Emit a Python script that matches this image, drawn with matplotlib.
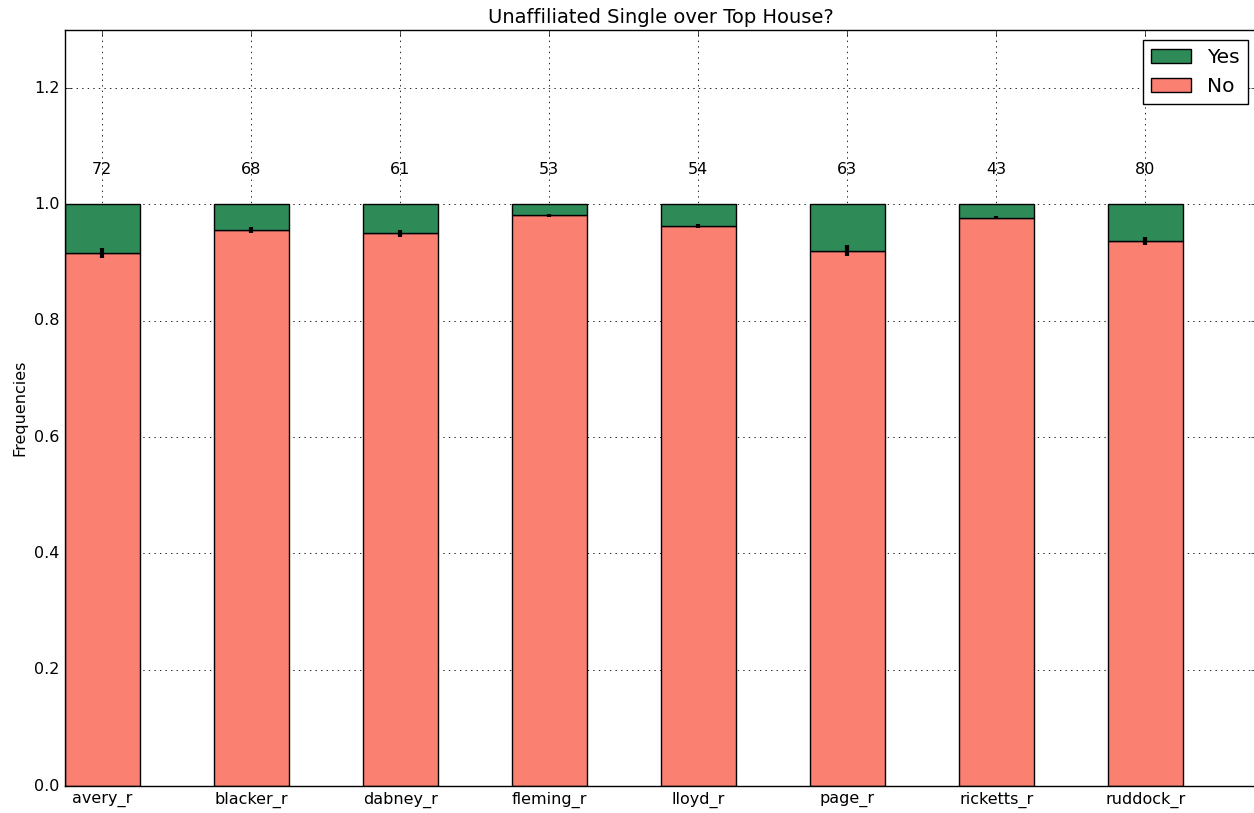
import matplotlib
matplotlib.use("Agg")
import matplotlib.pyplot as plt
import numpy as np

plt.style.use('classic')

houses = ["avery_r", "blacker_r", "dabney_r", "fleming_r", "lloyd_r", "page_r", "ricketts_r", "ruddock_r"]
counts = [72, 68, 61, 53, 54, 63, 43, 80]
no_frac = [66/72, 65/68, 58/61, 52/53, 52/54, 58/63, 42/43, 75/80]
yes_frac = [1 - v for v in no_frac]
err = [0.0086, 0.0046, 0.006, 0.002, 0.0035, 0.0095, 0.0026, 0.0066]

fig = plt.figure(figsize=(12.54, 8.13), dpi=100)
ax = fig.add_axes([65/1254, 1 - 786/813, (1257 - 65)/1254, (786 - 30)/813])

x = np.arange(len(houses))
w = 0.5
ax.bar(x, no_frac, w, color='salmon', edgecolor='black', linewidth=1, label='No', zorder=2)
ax.bar(x, yes_frac, w, bottom=no_frac, color='seagreen', edgecolor='black', linewidth=1, label='Yes', zorder=2)
ax.errorbar(x, no_frac, yerr=err, fmt='none', ecolor='black', elinewidth=3, capsize=0, zorder=3)

for xi, c in zip(x, counts):
    ax.text(xi, 1.048, str(c), ha='center', va='bottom', fontsize=11.5)

ax.set_xlim(-0.25, 7.75)
ax.set_ylim(0, 1.3)
ax.set_yticks(np.arange(0, 1.3, 0.2))
ax.set_xticks(x)
ax.set_xticklabels(houses, fontsize=11.5)
ax.tick_params(axis='y', labelsize=11.5)
ax.set_ylabel('Frequencies', fontsize=11.5)
ax.set_title('Unaffiliated Single over Top House?', fontsize=14)
ax.grid(True, color='black', linestyle=':', linewidth=0.6, zorder=0)
ax.set_axisbelow(True)

handles, labels = ax.get_legend_handles_labels()
ax.legend(handles[::-1], labels[::-1], loc='upper right', fontsize=14.5,
          bbox_to_anchor=(0.9975, 0.995), borderaxespad=0.3)

fig.savefig('out.png', dpi=100)
